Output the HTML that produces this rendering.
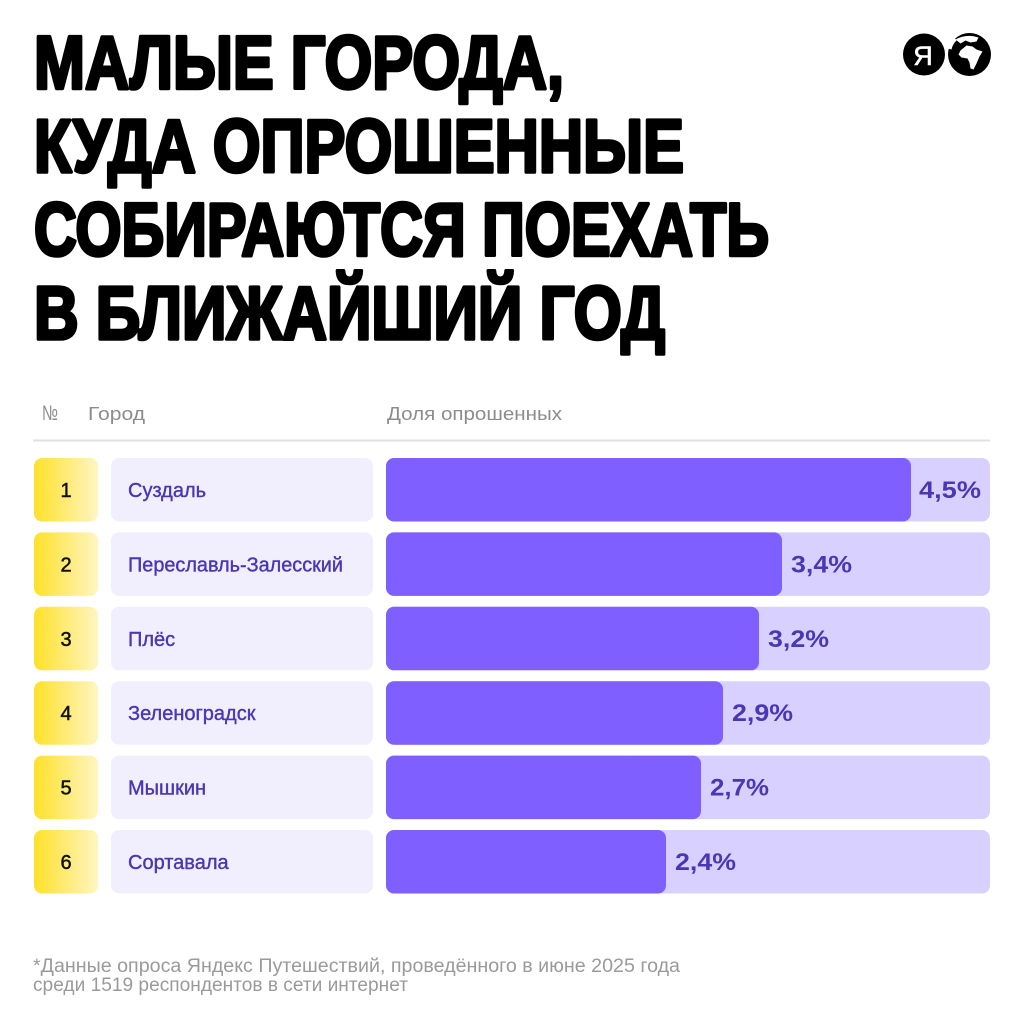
<!DOCTYPE html>
<html><head><meta charset="utf-8"><style>
html,body{margin:0;padding:0;background:#fff;}
svg{display:block;}
</style></head><body>
<svg width="1024" height="1024" viewBox="0 0 1024 1024" xmlns="http://www.w3.org/2000/svg">
<defs>
<linearGradient id="yg" x1="0" y1="0" x2="1" y2="0">
<stop offset="0" stop-color="#ffe12a"/>
<stop offset="1" stop-color="#fff5c2"/>
</linearGradient>
</defs>
<rect width="1024" height="1024" fill="#fff"/>

<g font-family="'Liberation Sans','Noto Sans CJK SC',sans-serif" font-weight="bold" font-size="75" fill="#000" stroke="#000" stroke-width="3.6" stroke-linejoin="round">
<text x="34" y="88.5" textLength="530" lengthAdjust="spacingAndGlyphs">МАЛЫЕ ГОРОДА,</text>
<text x="34" y="172" textLength="650" lengthAdjust="spacingAndGlyphs">КУДА ОПРОШЕННЫЕ</text>
<text x="34" y="255.5" textLength="735" lengthAdjust="spacingAndGlyphs">СОБИРАЮТСЯ ПОЕХАТЬ</text>
<text x="34" y="339" textLength="631" lengthAdjust="spacingAndGlyphs">В БЛИЖАЙШИЙ ГОД</text>
</g>

<!-- logo -->
<circle cx="924" cy="54.5" r="21" fill="#000"/>
<text x="923" y="65" text-anchor="middle" font-family="'Liberation Sans',sans-serif" font-size="27" fill="#fff" stroke="#fff" stroke-width="0.6">Я</text>
<circle cx="969.5" cy="54.5" r="21.5" fill="#000"/>
<g transform="translate(969.5,54.5)" fill="#fff">
<path d="M -9,-4 L -3,-9 L 3,-8 L 7,-5 L 13,-3 L 10,2 L 7,9 L 4,15 L 1,14 L 0,8 L -2,4 L -8,3 L -11,0 Z"/>
<path d="M -14,-15 Q -3,-21 9,-17 L 7,-13 L 1,-12 L -4,-14 L -9,-11 Z"/>
<path d="M -22,-6 Q -20,-14 -15,-17 L -13,-14 Q -17,-10 -18,-5 Z"/>
</g>

<!-- header -->
<g font-family="'Liberation Sans',sans-serif" font-size="18" fill="#8c8c8c">
<text x="42" y="420" font-size="21" textLength="16" lengthAdjust="spacingAndGlyphs">№</text>
<text x="88" y="420" textLength="57" lengthAdjust="spacingAndGlyphs">Город</text>
<text x="387" y="420" textLength="175" lengthAdjust="spacingAndGlyphs">Доля опрошенных</text>
</g>
<rect x="33" y="439.5" width="957" height="2" fill="#e2e2e2"/>

<!-- rows -->
<g font-family="'Liberation Sans',sans-serif">
<!-- row 1 -->
<rect x="34" y="458" width="64" height="63.5" rx="8" fill="url(#yg)"/>
<rect x="111" y="458" width="262" height="63.5" rx="8" fill="#f1effd"/>
<rect x="386" y="458" width="604" height="63.5" rx="8" fill="#d8d0ff"/>
<rect x="386" y="458" width="525" height="63.5" rx="8" fill="#7f5fff"/>
<text x="66" y="497" text-anchor="middle" font-size="20" fill="#111" stroke="#111" stroke-width="0.5">1</text>
<text x="128" y="497" font-size="20" fill="#4b36b3" stroke="#4b36b3" stroke-width="0.4">Суздаль</text>
<text x="919" y="498" font-size="24" font-weight="bold" fill="#4b36b3" textLength="62" lengthAdjust="spacingAndGlyphs">4,5%</text>

<!-- row 2 -->
<rect x="34" y="532.4" width="64" height="63.5" rx="8" fill="url(#yg)"/>
<rect x="111" y="532.4" width="262" height="63.5" rx="8" fill="#f1effd"/>
<rect x="386" y="532.4" width="604" height="63.5" rx="8" fill="#d8d0ff"/>
<rect x="386" y="532.4" width="396" height="63.5" rx="8" fill="#7f5fff"/>
<text x="66" y="571.4" text-anchor="middle" font-size="20" fill="#111" stroke="#111" stroke-width="0.5">2</text>
<text x="128" y="571.4" font-size="20" fill="#4b36b3" stroke="#4b36b3" stroke-width="0.4" textLength="215" lengthAdjust="spacingAndGlyphs">Переславль-Залесский</text>
<text x="791" y="572.4" font-size="24" font-weight="bold" fill="#4b36b3" textLength="61" lengthAdjust="spacingAndGlyphs">3,4%</text>

<!-- row 3 -->
<rect x="34" y="606.8" width="64" height="63.5" rx="8" fill="url(#yg)"/>
<rect x="111" y="606.8" width="262" height="63.5" rx="8" fill="#f1effd"/>
<rect x="386" y="606.8" width="604" height="63.5" rx="8" fill="#d8d0ff"/>
<rect x="386" y="606.8" width="373" height="63.5" rx="8" fill="#7f5fff"/>
<text x="66" y="645.8" text-anchor="middle" font-size="20" fill="#111" stroke="#111" stroke-width="0.5">3</text>
<text x="128" y="645.8" font-size="20" fill="#4b36b3" stroke="#4b36b3" stroke-width="0.4">Плёс</text>
<text x="768" y="646.8" font-size="24" font-weight="bold" fill="#4b36b3" textLength="61" lengthAdjust="spacingAndGlyphs">3,2%</text>

<!-- row 4 -->
<rect x="34" y="681.2" width="64" height="63.5" rx="8" fill="url(#yg)"/>
<rect x="111" y="681.2" width="262" height="63.5" rx="8" fill="#f1effd"/>
<rect x="386" y="681.2" width="604" height="63.5" rx="8" fill="#d8d0ff"/>
<rect x="386" y="681.2" width="337" height="63.5" rx="8" fill="#7f5fff"/>
<text x="66" y="720.2" text-anchor="middle" font-size="20" fill="#111" stroke="#111" stroke-width="0.5">4</text>
<text x="128" y="720.2" font-size="20" fill="#4b36b3" stroke="#4b36b3" stroke-width="0.4">Зеленоградск</text>
<text x="732" y="721.2" font-size="24" font-weight="bold" fill="#4b36b3" textLength="61" lengthAdjust="spacingAndGlyphs">2,9%</text>

<!-- row 5 -->
<rect x="34" y="755.6" width="64" height="63.5" rx="8" fill="url(#yg)"/>
<rect x="111" y="755.6" width="262" height="63.5" rx="8" fill="#f1effd"/>
<rect x="386" y="755.6" width="604" height="63.5" rx="8" fill="#d8d0ff"/>
<rect x="386" y="755.6" width="315" height="63.5" rx="8" fill="#7f5fff"/>
<text x="66" y="794.6" text-anchor="middle" font-size="20" fill="#111" stroke="#111" stroke-width="0.5">5</text>
<text x="128" y="794.6" font-size="20" fill="#4b36b3" stroke="#4b36b3" stroke-width="0.4">Мышкин</text>
<text x="710" y="795.6" font-size="24" font-weight="bold" fill="#4b36b3" textLength="59" lengthAdjust="spacingAndGlyphs">2,7%</text>

<!-- row 6 -->
<rect x="34" y="830" width="64" height="63.5" rx="8" fill="url(#yg)"/>
<rect x="111" y="830" width="262" height="63.5" rx="8" fill="#f1effd"/>
<rect x="386" y="830" width="604" height="63.5" rx="8" fill="#d8d0ff"/>
<rect x="386" y="830" width="280" height="63.5" rx="8" fill="#7f5fff"/>
<text x="66" y="869" text-anchor="middle" font-size="20" fill="#111" stroke="#111" stroke-width="0.5">6</text>
<text x="128" y="869" font-size="20" fill="#4b36b3" stroke="#4b36b3" stroke-width="0.4">Сортавала</text>
<text x="675" y="870" font-size="24" font-weight="bold" fill="#4b36b3" textLength="61" lengthAdjust="spacingAndGlyphs">2,4%</text>
</g>

<!-- footnote -->
<g font-family="'Liberation Sans',sans-serif" font-size="19" fill="#9a9a9a">
<text x="33" y="972" textLength="647" lengthAdjust="spacingAndGlyphs">*Данные опроса Яндекс Путешествий, проведённого в июне 2025 года</text>
<text x="33" y="991" textLength="375" lengthAdjust="spacingAndGlyphs">среди 1519 респондентов в сети интернет</text>
</g>
</svg>
</body></html>
